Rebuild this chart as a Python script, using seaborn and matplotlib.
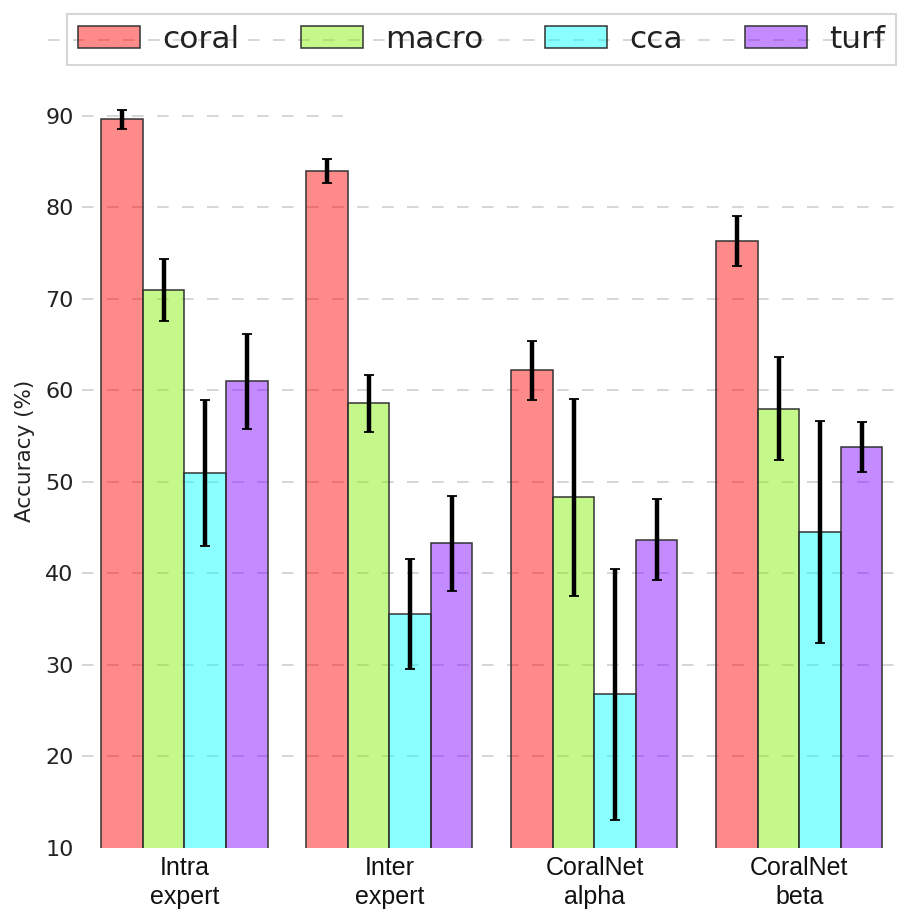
import pandas as pd
import seaborn as sns
import matplotlib
matplotlib.use('Agg')
import matplotlib.pyplot as plt
from matplotlib.colors import to_rgba
from matplotlib.lines import Line2D

# data
groups = ['Intra\nexpert', 'Inter\nexpert', 'CoralNet\nalpha', 'CoralNet\nbeta']
series = ['coral', 'macro', 'cca', 'turf']
coral = [89.6, 84.0, 62.2, 76.3]
macro = [71.0, 58.6, 48.3, 58.0]
cca = [51.0, 35.6, 26.8, 44.5]
turf = [61.0, 43.3, 43.7, 53.8]
coral_err = [1.0, 1.3, 3.2, 2.7]
macro_err = [3.4, 3.1, 10.8, 5.6]
cca_err = [8.0, 6.0, 13.7, 12.1]
turf_err = [5.2, 5.2, 4.4, 2.7]
yticks = [10, 20, 30, 40, 50, 60, 70, 80, 90]

values = {'coral': coral, 'macro': macro, 'cca': cca, 'turf': turf}
errors = {'coral': coral_err, 'macro': macro_err, 'cca': cca_err, 'turf': turf_err}
colors = ['#ff0000', '#80f000', '#00ffff', '#8000ff']

rows = []
for s in series:
    for g, v in zip(groups, values[s]):
        rows.append({'group': g, 'series': s, 'acc': v})
df = pd.DataFrame(rows)

sns.set_theme(style='white')
plt.rcParams['font.family'] = ['DejaVu Sans']

fig = plt.figure(figsize=(9.03, 9.10), dpi=100)
ax = fig.add_axes([0.0908, 0.0681, 0.908, 0.855])

sns.barplot(data=df, x='group', y='acc', hue='series', order=groups, hue_order=series,
            palette=colors, saturation=1, errorbar=None, width=0.81, edgecolor='#333333',
            linewidth=1.1, ax=ax)

bar_conts = list(ax.containers)

# lighten the fills but keep the edges dark
for p in ax.patches:
    p.set_facecolor(to_rgba(p.get_facecolor(), 0.46))

# error bars on top of every bar
for s, cont in zip(series, bar_conts):
    for p in cont.patches:
        xc = p.get_x() + p.get_width() / 2
        gi = int(round(xc))
        ax.errorbar(xc, p.get_height(), yerr=errors[s][gi], fmt='none', ecolor='black',
                    elinewidth=3.2, capsize=3.8, capthick=1.3, zorder=5)

ax.get_legend().remove()
ax.set_xlim(-0.5, 3.5)
ax.set_ylim(10, 95)
ax.set_yticks(yticks)
ax.set_xlabel('')
ax.set_ylabel('Accuracy (%)', fontsize=15.5, color='#222222')
ax.yaxis.set_label_coords(-0.057, 0.51)
ax.tick_params(axis='y', length=0, pad=6, labelsize=16, labelcolor='#222222')
ax.tick_params(axis='x', length=0, pad=5.5)
for lab in ax.get_xticklabels():
    lab.set_fontfamily('Liberation Sans')
    lab.set_fontsize(18)
    lab.set_linespacing(1.28)
    lab.set_color('#111111')
for sp in ax.spines.values():
    sp.set_visible(False)

# dashed grid, the top one is cut short like in the original
for t in yticks:
    if 10 < t < 90:
        ax.axhline(t, color='#d0d0d0', lw=1.2, ls=(0, (7, 8)), zorder=0)
ax.axhline(90, xmin=0, xmax=0.318, color='#d0d0d0', lw=1.2, ls=(0, (7, 8)), zorder=0)
ax.set_axisbelow(True)

fig.add_artist(Line2D([0.053, 0.99], [0.956, 0.956], transform=fig.transFigure,
                      color='#d0d0d0', lw=1.2, ls=(0, (7, 8)), zorder=0))

handles = [cont.patches[0] for cont in bar_conts]
leg = fig.legend(handles, series, loc='center', bbox_to_anchor=(0.533, 0.957), ncol=4,
                 fontsize=22.5, handlelength=2.0, handleheight=0.72, handletextpad=0.7,
                 columnspacing=1.97, frameon=True, fancybox=False, borderpad=0.35)
leg.get_frame().set_facecolor('none')
leg.get_frame().set_edgecolor('#cccccc')
leg.get_frame().set_linewidth(1.5)
for t in leg.get_texts():
    t.set_color('#222222')

fig.savefig('out.png', dpi=100)
